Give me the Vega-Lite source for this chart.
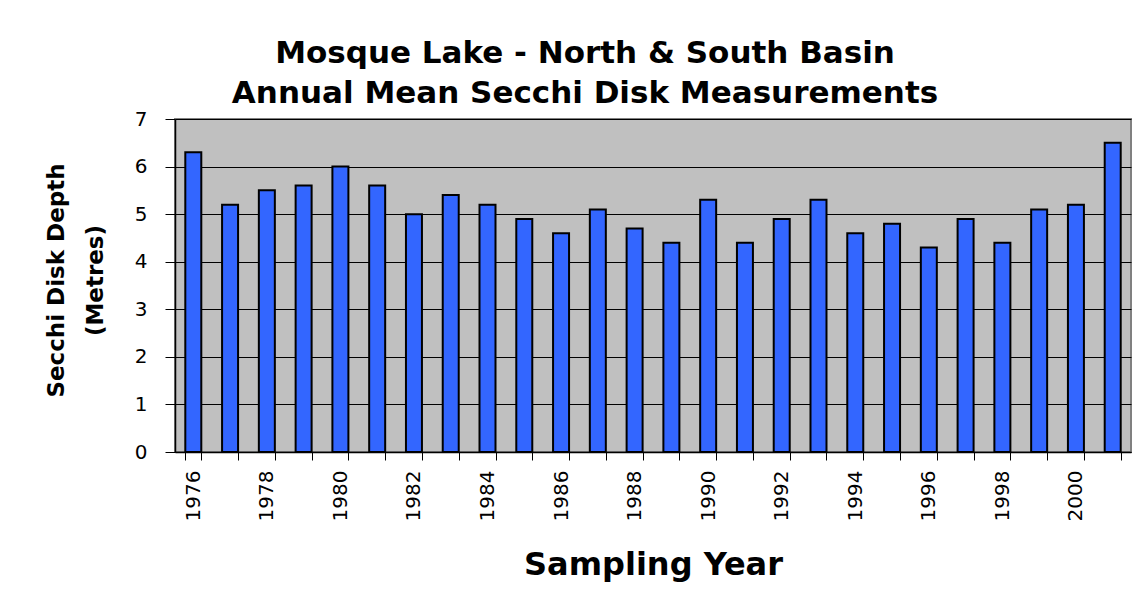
{
  "$schema": "https://vega.github.io/schema/vega-lite/v6.json",
  "width": 956,
  "height": 333,
  "autosize": {"type": "none"},
  "padding": {"left": 175, "top": 119, "right": 15, "bottom": 152},
  "background": "white",
  "title": {
    "text": "Mosque Lake - North & South Basin",
    "subtitle": "Annual Mean Secchi Disk Measurements",
    "anchor": "middle",
    "dx": -68,
    "offset": -1,
    "font": "DejaVu Sans",
    "fontSize": 31,
    "fontWeight": "bold",
    "color": "black",
    "subtitleFont": "DejaVu Sans",
    "subtitleFontSize": 31,
    "subtitleFontWeight": "bold",
    "subtitleColor": "black",
    "subtitlePadding": 9
  },
  "data": {
    "values": [
      {"year": 1976, "depth": 6.3},
      {"year": 1977, "depth": 5.2},
      {"year": 1978, "depth": 5.5},
      {"year": 1979, "depth": 5.6},
      {"year": 1980, "depth": 6.0},
      {"year": 1981, "depth": 5.6},
      {"year": 1982, "depth": 5.0},
      {"year": 1983, "depth": 5.4},
      {"year": 1984, "depth": 5.2},
      {"year": 1985, "depth": 4.9},
      {"year": 1986, "depth": 4.6},
      {"year": 1987, "depth": 5.1},
      {"year": 1988, "depth": 4.7},
      {"year": 1989, "depth": 4.4},
      {"year": 1990, "depth": 5.3},
      {"year": 1991, "depth": 4.4},
      {"year": 1992, "depth": 4.9},
      {"year": 1993, "depth": 5.3},
      {"year": 1994, "depth": 4.6},
      {"year": 1995, "depth": 4.8},
      {"year": 1996, "depth": 4.3},
      {"year": 1997, "depth": 4.9},
      {"year": 1998, "depth": 4.4},
      {"year": 1999, "depth": 5.1},
      {"year": 2000, "depth": 5.2},
      {"year": 2001, "depth": 6.5}
    ]
  },
  "mark": {"type": "bar", "fill": "#3366FF", "stroke": "black", "strokeWidth": 2},
  "encoding": {
    "x": {
      "field": "year",
      "type": "ordinal",
      "scale": {"paddingInner": 0.565, "paddingOuter": 0.28},
      "axis": {
        "title": "Sampling Year",
        "titleFont": "DejaVu Sans",
        "titleFontSize": 32,
        "titleFontWeight": "bold",
        "titleColor": "black",
        "titlePadding": 29,
        "labelAngle": -90,
        "labelFont": "DejaVu Sans",
        "labelFontSize": 20,
        "labelColor": "black",
        "labelPadding": 10,
        "labelExpr": "datum.value % 2 == 0 ? datum.label : ''",
        "tickBand": "extent",
        "tickSize": 8,
        "tickColor": "black",
        "domainColor": "black",
        "domainWidth": 1.5
      }
    },
    "y": {
      "field": "depth",
      "type": "quantitative",
      "scale": {"domain": [0, 7]},
      "axis": {
        "title": ["Secchi Disk Depth", "(Metres)"],
        "titleFont": "DejaVu Sans",
        "titleFontSize": 23,
        "titleFontWeight": "bold",
        "titleColor": "black",
        "titleLineHeight": 39,
        "titlePadding": 27,
        "titleY": 161,
        "values": [0, 1, 2, 3, 4, 5, 6, 7],
        "labelFont": "DejaVu Sans",
        "labelFontSize": 20,
        "labelColor": "black",
        "labelPadding": 18,
        "tickSize": 10,
        "tickColor": "black",
        "domainColor": "black",
        "domainWidth": 1.5,
        "grid": true,
        "gridColor": "black",
        "gridWidth": 1
      }
    }
  },
  "config": {
    "view": {"fill": "#C0C0C0", "stroke": "#808080", "strokeWidth": 2}
  }
}
